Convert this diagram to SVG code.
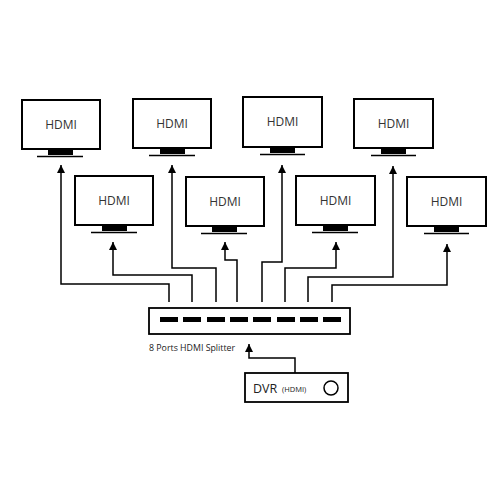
<svg xmlns="http://www.w3.org/2000/svg" width="500" height="500" viewBox="0 0 500 500">
<style>
.scr{fill:#fff;stroke:#000;stroke-width:2}
.stand{fill:#000}
.base{stroke:#000;stroke-width:1.5}
.lbl{font-family:"Open Sans","DejaVu Sans",sans-serif;font-size:12px;fill:#333;text-anchor:middle}
.wire{fill:none;stroke:#000;stroke-width:1.5}
.small{font-family:"Open Sans","DejaVu Sans",sans-serif;fill:#222}
</style>
<defs>
<marker id="up" markerUnits="userSpaceOnUse" markerWidth="8" markerHeight="9" viewBox="0 0 8 9" refX="4" refY="0" orient="0">
<path d="M0,8 L4,0 L8,8 Z" fill="#000"/>
</marker>
</defs>
<rect width="500" height="500" fill="#fff"/>
<g id="tv1"><rect class="scr" x="22" y="100" width="78" height="49"/><rect class="stand" x="48" y="149" width="25" height="6"/><line class="base" x1="37" y1="156.5" x2="83" y2="156.5"/><text class="lbl" x="61" y="129">HDMI</text></g>
<g id="tv2"><rect class="scr" x="75" y="176" width="78" height="49"/><rect class="stand" x="102" y="225" width="25" height="6"/><line class="base" x1="91" y1="232.5" x2="137" y2="232.5"/><text class="lbl" x="114" y="205">HDMI</text></g>
<g id="tv3"><rect class="scr" x="133" y="99" width="78" height="49"/><rect class="stand" x="160" y="148" width="25" height="6"/><line class="base" x1="149" y1="155.5" x2="195" y2="155.5"/><text class="lbl" x="172" y="128">HDMI</text></g>
<g id="tv4"><rect class="scr" x="186" y="177" width="78" height="49"/><rect class="stand" x="212" y="226" width="25" height="6"/><line class="base" x1="201" y1="233.5" x2="247" y2="233.5"/><text class="lbl" x="225" y="206">HDMI</text></g>
<g id="tv5"><rect class="scr" x="243" y="97" width="79" height="50"/><rect class="stand" x="270" y="147" width="25" height="6"/><line class="base" x1="260" y1="154.5" x2="305" y2="154.5"/><text class="lbl" x="282.5" y="126">HDMI</text></g>
<g id="tv6"><rect class="scr" x="296" y="176" width="79" height="49"/><rect class="stand" x="323" y="225" width="25" height="6"/><line class="base" x1="312" y1="232.5" x2="358" y2="232.5"/><text class="lbl" x="335.5" y="205">HDMI</text></g>
<g id="tv7"><rect class="scr" x="354" y="99" width="79" height="49"/><rect class="stand" x="381" y="148" width="25" height="6"/><line class="base" x1="371" y1="155.5" x2="416" y2="155.5"/><text class="lbl" x="393.5" y="128">HDMI</text></g>
<g id="tv8"><rect class="scr" x="407" y="177" width="79" height="49"/><rect class="stand" x="434" y="226" width="25" height="6"/><line class="base" x1="424" y1="233.5" x2="469" y2="233.5"/><text class="lbl" x="446.5" y="206">HDMI</text></g>
<g id="splitter">
<rect x="149" y="308" width="201" height="26" fill="#fff" stroke="#000" stroke-width="1.8"/>
<g fill="#000">
<rect x="160" y="317" width="18" height="5"/><rect x="183" y="317" width="18" height="5"/><rect x="207" y="317" width="18" height="5"/><rect x="230" y="317" width="18" height="5"/><rect x="253" y="317" width="18" height="5"/><rect x="277" y="317" width="18" height="5"/><rect x="300" y="317" width="18" height="5"/><rect x="323" y="317" width="18" height="5"/>
</g>
<text class="small" x="149" y="351" font-size="8.8">8 Ports HDMI Splitter</text>
</g>
<g id="dvr">
<rect x="245" y="373" width="103" height="29" fill="#fff" stroke="#000" stroke-width="1.8"/>
<text class="small" x="253" y="393" font-size="12.5">DVR</text>
<text class="small" x="282" y="392" font-size="7.5">(HDMI)</text>
<circle cx="331" cy="388" r="7" fill="none" stroke="#000" stroke-width="1.5"/>
</g>
<g id="connectors">
<path class="wire" marker-end="url(#up)" d="M169,302 V284 H61 V165"/>
<path class="wire" marker-end="url(#up)" d="M192,302 V275 H113 V242"/>
<path class="wire" marker-end="url(#up)" d="M216,302 V268 H172 V165"/>
<path class="wire" marker-end="url(#up)" d="M237,302 V260 H225 V242"/>
<path class="wire" marker-end="url(#up)" d="M262,302 V262 H282 V165"/>
<path class="wire" marker-end="url(#up)" d="M285,302 V268 H336 V242"/>
<path class="wire" marker-end="url(#up)" d="M308,302 V277 H393 V166"/>
<path class="wire" marker-end="url(#up)" d="M332,302 V285 H447 V244"/>
<path class="wire" marker-end="url(#up)" d="M295,373 V358 H249 V344"/>
</g>
</svg>
